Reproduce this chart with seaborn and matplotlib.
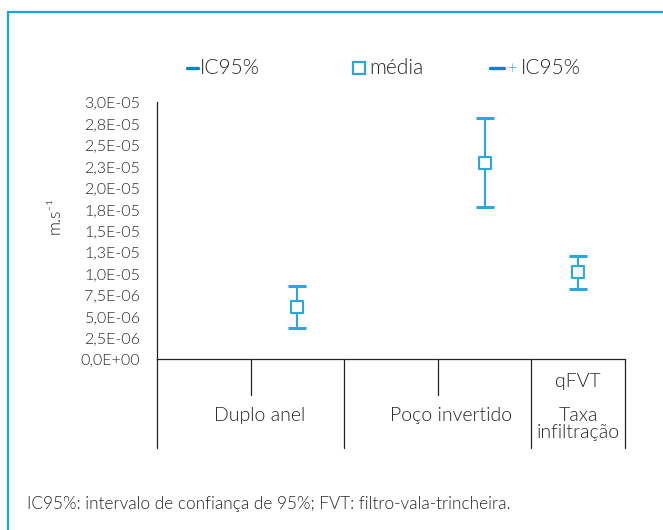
import matplotlib
matplotlib.use("Agg")
import matplotlib.pyplot as plt
from matplotlib.lines import Line2D
import numpy as np
import pandas as pd
import seaborn as sns

# Infiltration rates (m/s): mean with 95% confidence interval
methods = ["Duplo anel", "Poço invertido", "qFVT"]
slot = [1, 3, 4]                      # slot on the two-level category axis
media = [6.1e-6, 22.9e-6, 10.2e-6]
ic_low = [3.65e-6, 17.8e-6, 8.2e-6]
ic_high = [8.55e-6, 28.1e-6, 12.0e-6]

yticks = [0, 2.5e-6, 5.0e-6, 7.5e-6, 1.0e-5, 1.25e-5, 1.5e-5, 1.75e-5,
          2.0e-5, 2.25e-5, 2.5e-5, 2.75e-5, 3.0e-5]
ytick_labels = ["0,0E+00", "2,5E-06", "5,0E-06", "7,5E-06", "1,0E-05", "1,3E-05",
                "1,5E-05", "1,8E-05", "2,0E-05", "2,3E-05", "2,5E-05", "2,8E-05",
                "3,0E-05"]

df = pd.DataFrame({"metodo": methods, "slot": slot, "media": media,
                   "low": ic_low, "high": ic_high})

sns.set_style("white")
plt.rcParams["font.family"] = ["Lato", "DejaVu Sans"]
plt.rcParams["font.weight"] = 300

TXT = "#262626"
LINE_BLUE = "#2aa7dc"
CAP_BLUE = "#0b86c3"
FRAME_BLUE = "#13a9e0"

W, H = 663, 530
fig = plt.figure(figsize=(W / 100, H / 100), dpi=100)


def fx(px):
    return px / W


def fy(py):
    return 1 - py / H


# plot area in pixel terms: x 157..625, y 102..359
ax = fig.add_axes([fx(157), fy(359), fx(625) - fx(157), fy(102) - fy(359)])

# error bars: light vertical line, darker caps
eb = ax.errorbar(df["slot"], df["media"],
                 yerr=[df["media"] - df["low"], df["high"] - df["media"]],
                 fmt="none", ecolor=LINE_BLUE, elinewidth=1.5,
                 capsize=6.5, capthick=2.2, zorder=2)
for cap in eb[1]:
    cap.set_color(CAP_BLUE)

sns.scatterplot(data=df, x="slot", y="media", marker="s", s=64,
                facecolor="white", edgecolor=LINE_BLUE, linewidth=1.5,
                ax=ax, zorder=3, legend=False)

ax.set_xlim(-0.5, 4.5)
ax.set_ylim(0, 3.0e-5)
ax.set_yticks(yticks)
ax.set_yticklabels(ytick_labels, fontsize=11.5, color=TXT)
ax.set_xticks([])
ax.set_xlabel("")
ax.set_ylabel("")
ax.tick_params(axis="y", direction="out", length=3, width=0.9, color="#222222", pad=9)
for side in ["top", "right"]:
    ax.spines[side].set_visible(False)
for side in ["left", "bottom"]:
    ax.spines[side].set_color("#222222")
    ax.spines[side].set_linewidth(0.9)

# two-level category axis below the plot
ax_tr = ax.get_xaxis_transform()


def ay(py):
    return (359 - py) / 257.0


for xs in [-0.5, 1.5, 3.5, 4.5]:
    ax.plot([xs, xs], [0, ay(448)], transform=ax_tr, color="#222222",
            lw=0.9, clip_on=False)
for xs in [0.5, 2.5]:
    ax.plot([xs, xs], [0, ay(395)], transform=ax_tr, color="#222222",
            lw=0.9, clip_on=False)

CAT_FS = 14
ax.text(4, ay(381), "qFVT", transform=ax_tr, ha="center", va="center",
        fontsize=CAT_FS, color=TXT)
ax.text(0.6, ay(416), "Duplo anel", transform=ax_tr, ha="center", va="center",
        fontsize=CAT_FS, color=TXT)
ax.text(2.64, ay(416), "Poço invertido", transform=ax_tr, ha="center", va="center",
        fontsize=CAT_FS, color=TXT)
ax.text(4.0, ay(424), "Taxa\ninfiltração", transform=ax_tr, ha="center",
        va="center", fontsize=CAT_FS, color=TXT, linespacing=1.05)

# y-axis title
fig.text(fx(55), fy(215), "m.s⁻¹", rotation=90, ha="center", va="center",
         fontsize=12.5, color=TXT)

# legend row
LEG_FS = 15
ly = fy(68)
fig.add_artist(Line2D([fx(187), fx(198)], [ly, ly], color=CAP_BLUE, lw=2.4))
fig.text(fx(200), ly, "IC95%", ha="left", va="center", fontsize=LEG_FS, color=TXT)
fig.add_artist(Line2D([fx(359)], [ly], marker="s", markersize=8,
                      markerfacecolor="white", markeredgecolor=LINE_BLUE,
                      markeredgewidth=1.6, linestyle="none"))
fig.text(fx(369), ly, "média", ha="left", va="center", fontsize=LEG_FS, color=TXT)
fig.add_artist(Line2D([fx(490), fx(504)], [ly, ly], color=CAP_BLUE, lw=2.4))
fig.text(fx(507), ly, "+", ha="left", va="center", fontsize=12, color=LINE_BLUE)
fig.text(fx(521), ly, "IC95%", ha="left", va="center", fontsize=LEG_FS, color=TXT)

# footnote
fig.text(fx(27), fy(504), "IC95%: intervalo de confiança de 95%; FVT: filtro-vala-trincheira.",
         ha="left", va="center", fontsize=12.4, color=TXT)

# outer frame (open to the right and bottom)
fig.add_artist(Line2D([fx(8), fx(8), fx(663)], [fy(530), fy(12), fy(12)],
                      color=FRAME_BLUE, lw=1.6, solid_joinstyle="miter"))

fig.savefig("out.png", dpi=100)
